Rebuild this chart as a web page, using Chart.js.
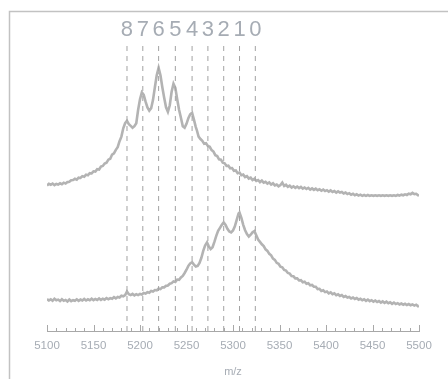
<!DOCTYPE html>
<html>
<head>
<meta charset="utf-8">
<script src="https://cdn.jsdelivr.net/npm/chart.js@4"></script>
<style>
  html, body { margin: 0; padding: 0; background: #fff; }
  canvas { display: block; }
</style>
</head>
<body>
<canvas id="spectra" width="448" height="379"></canvas>
<script>
// Upper spectrum: [m/z, relative intensity]
const upperSpectrum = [
  [5100,48.7],[5102,49.2],[5104,48.9],[5106,49.3],[5108,48.8],[5110,49.2],[5112,49.0],[5114,49.4],[5116,49.1],[5118,49.6],
  [5120,49.3],[5122,49.8],[5124,49.9],[5126,50.4],[5128,50.5],[5130,50.9],[5132,50.6],[5134,51.3],[5136,51.2],[5138,51.8],
  [5140,51.6],[5142,52.3],[5144,52.1],[5146,52.8],[5148,52.7],[5150,53.4],[5152,53.3],[5154,54.1],[5156,54.0],[5158,55.0],
  [5160,55.2],[5162,56.0],[5164,56.3],[5166,57.3],[5168,57.6],[5170,59.0],[5172,59.4],[5174,60.6],[5176,61.5],[5178,63.5],
  [5180,65.0],[5182,67.8],[5184,69.5],[5186,70.3],[5188,69.2],[5190,68.6],[5192,68.0],[5194,68.5],[5196,69.5],[5198,74.0],
  [5200,77.5],[5202,79.8],[5204,79.0],[5206,76.7],[5208,74.8],[5210,73.7],[5212,74.5],[5214,77.3],[5216,81.5],[5218,85.5],
  [5220,88.0],[5222,85.5],[5224,81.5],[5226,78.0],[5228,74.8],[5230,73.3],[5232,75.5],[5234,80.0],[5236,82.7],[5238,81.3],
  [5240,77.5],[5242,74.0],[5244,71.3],[5246,68.5],[5248,68.0],[5250,69.3],[5252,71.2],[5254,72.5],[5256,73.0],[5258,70.7],
  [5260,68.2],[5261,67.3],[5263,65.0],[5265,64.2],[5267,63.6],[5269,62.6],[5271,62.8],[5273,61.9],[5275,61.6],[5277,60.5],
  [5279,60.0],[5281,58.8],[5283,58.5],[5285,57.4],[5287,57.3],[5289,56.3],[5291,56.1],[5293,55.2],[5295,55.3],[5297,54.4],
  [5299,54.5],[5301,53.6],[5303,53.7],[5305,52.8],[5307,53.0],[5309,52.1],[5311,52.3],[5313,51.5],[5315,51.8],[5317,51.0],
  [5319,51.3],[5321,50.5],[5323,50.9],[5325,50.2],[5327,50.5],[5329,49.8],[5331,50.3],[5333,49.6],[5335,49.9],[5337,49.3],
  [5339,49.7],[5341,49.0],[5343,49.4],[5345,48.7],[5347,49.0],[5349,48.4],[5351,48.8],[5353,49.6],[5355,48.5],[5357,48.9],
  [5359,48.2],[5361,48.6],[5363,48.0],[5365,48.4],[5367,47.9],[5369,48.3],[5371,47.8],[5373,48.2],[5375,47.6],[5377,48.0],
  [5379,47.5],[5381,47.9],[5383,47.3],[5385,47.7],[5387,47.2],[5389,47.6],[5391,47.1],[5393,47.4],[5395,46.9],[5397,47.3],
  [5399,46.8],[5401,47.1],[5403,46.6],[5405,47.0],[5407,46.5],[5409,46.8],[5411,46.3],[5413,46.7],[5415,46.3],[5417,46.5],
  [5419,46.0],[5421,46.3],[5423,45.8],[5425,46.1],[5427,45.6],[5429,45.9],[5431,45.4],[5433,45.7],[5435,45.3],[5437,45.6],
  [5439,45.2],[5441,45.5],[5443,45.2],[5445,45.5],[5447,45.2],[5449,45.4],[5451,45.2],[5453,45.4],[5455,45.2],[5457,45.4],
  [5459,45.2],[5461,45.4],[5463,45.2],[5465,45.4],[5467,45.2],[5469,45.4],[5471,45.2],[5473,45.4],[5475,45.2],[5477,45.5],
  [5479,45.3],[5481,45.6],[5483,45.4],[5485,45.7],[5487,45.5],[5489,45.9],[5491,45.7],[5493,46.2],[5495,45.8],[5497,45.9],
  [5499,45.4],[5500,45.3]
];

// Lower spectrum: [m/z, relative intensity]
const lowerSpectrum = [
  [5100,10.7],[5102,10.2],[5104,10.6],[5106,10.1],[5108,10.8],[5110,10.3],[5112,10.5],[5114,10.0],[5116,10.6],[5118,10.1],
  [5120,10.4],[5122,9.9],[5124,10.5],[5126,10.0],[5128,10.3],[5130,10.1],[5132,10.6],[5134,10.1],[5136,10.5],[5138,10.2],
  [5140,10.7],[5142,10.2],[5144,10.6],[5146,10.3],[5148,10.8],[5150,10.3],[5152,10.7],[5154,10.4],[5156,10.9],[5158,10.4],
  [5160,10.8],[5162,10.5],[5164,11.0],[5166,10.6],[5168,11.0],[5170,10.8],[5172,11.3],[5174,10.9],[5176,11.4],[5178,11.2],
  [5180,11.8],[5182,11.6],[5184,12.0],[5186,13.2],[5188,12.3],[5190,12.0],[5192,12.4],[5194,11.9],[5196,12.3],[5198,12.0],
  [5200,12.4],[5202,12.2],[5204,12.7],[5206,12.5],[5208,13.0],[5210,12.8],[5212,13.4],[5214,13.2],[5216,13.7],[5218,13.6],
  [5220,14.2],[5222,14.0],[5224,14.6],[5226,14.6],[5228,15.1],[5230,15.2],[5232,15.8],[5234,16.0],[5236,16.6],[5238,16.4],
  [5240,17.2],[5242,17.1],[5244,17.9],[5246,18.4],[5248,19.4],[5250,20.5],[5252,21.8],[5254,22.6],[5256,23.0],[5258,22.2],
  [5260,21.6],[5262,21.8],[5264,22.8],[5266,24.5],[5268,26.8],[5270,28.6],[5272,29.6],[5274,28.3],[5276,27.4],[5278,28.0],
  [5280,29.8],[5282,31.8],[5284,33.5],[5286,34.5],[5288,35.5],[5290,36.3],[5292,35.5],[5294,34.2],[5296,33.3],[5298,33.0],
  [5300,33.6],[5302,35.0],[5304,37.2],[5306,39.3],[5307,39.6],[5309,37.8],[5311,35.5],[5313,33.7],[5315,32.4],[5317,31.6],
  [5319,32.2],[5321,33.0],[5323,33.4],[5325,32.0],[5327,30.6],[5329,29.8],[5331,29.0],[5333,28.4],[5335,27.3],[5337,26.8],
  [5339,25.8],[5341,25.3],[5343,24.2],[5345,23.8],[5347,22.8],[5349,22.5],[5351,21.5],[5353,21.3],[5355,20.4],[5357,20.2],
  [5359,19.4],[5361,19.2],[5363,18.4],[5365,18.3],[5367,17.6],[5369,17.6],[5371,16.9],[5373,17.0],[5375,16.3],[5377,16.5],
  [5379,15.8],[5381,16.0],[5383,15.3],[5385,15.4],[5387,14.8],[5389,14.8],[5391,14.0],[5393,14.1],[5395,13.4],[5397,13.6],
  [5399,13.0],[5401,13.2],[5403,12.6],[5405,12.9],[5407,12.3],[5409,12.6],[5411,12.0],[5413,12.3],[5415,11.7],[5417,12.0],
  [5419,11.4],[5421,11.7],[5423,11.2],[5425,11.4],[5427,10.9],[5429,11.2],[5431,10.7],[5433,11.0],[5435,10.5],[5437,10.8],
  [5439,10.3],[5441,10.6],[5443,10.1],[5445,10.5],[5447,10.0],[5449,10.3],[5451,9.8],[5453,10.2],[5455,9.7],[5457,10.0],
  [5459,9.5],[5461,9.9],[5463,9.4],[5465,9.8],[5467,9.3],[5469,9.6],[5471,9.1],[5473,9.5],[5475,9.0],[5477,9.3],
  [5479,8.9],[5481,9.2],[5483,8.8],[5485,9.1],[5487,8.7],[5489,9.0],[5491,8.6],[5493,8.9],[5495,8.5],[5497,8.8],
  [5499,8.3],[5500,8.4]
];

// Adduct ladder markers
const markerMz = [5186, 5203, 5220, 5238, 5256, 5273, 5290, 5307, 5324];
const markerLabels = ['8', '7', '6', '5', '4', '3', '2', '1', '0'];
const markerTop = 95.7;

// Axis ticks
const xTickLabels = [5100, 5150, 5200, 5250, 5300, 5350, 5400, 5450, 5500];
const xMinorStep = 10;

const traceColor = '#b3b3b3';
const textColor = '#a6acb4';

const toPoints = (pairs) => pairs.map(([x, y]) => ({ x: x, y: y }));

const markerSets = markerMz.map(m => ({
  data: [{ x: m, y: 0 }, { x: m, y: markerTop }],
  borderColor: '#a3a3a3',
  borderWidth: 1,
  borderDash: [5, 5],
  pointRadius: 0,
  tension: 0,
  order: 0
}));

// Frame, minor/major tick marks and ladder labels
const decor = {
  id: 'decor',
  beforeDraw(chart) {
    const ctx = chart.ctx;
    ctx.save();
    ctx.fillStyle = '#fff';
    ctx.fillRect(0, 0, chart.width, chart.height);
    ctx.strokeStyle = '#c2c2c2';
    ctx.lineWidth = 1.5;
    ctx.strokeRect(9.5, 11.5, 500, 400);
    ctx.restore();
  },
  afterDraw(chart) {
    const ctx = chart.ctx;
    const xs = chart.scales.x;
    const base = chart.chartArea.bottom;
    ctx.save();
    ctx.strokeStyle = '#a8a8a8';
    ctx.lineWidth = 1;
    ctx.beginPath();
    for (let v = xs.min; v <= xs.max + 0.001; v += xMinorStep) {
      const px = Math.round(xs.getPixelForValue(v)) + 0.5;
      const major = xTickLabels.includes(v);
      ctx.moveTo(px, base);
      ctx.lineTo(px, base - (major ? 6 : 3));
    }
    ctx.stroke();

    ctx.fillStyle = textColor;
    ctx.font = '22px "Liberation Sans", Arial, sans-serif';
    ctx.textAlign = 'center';
    ctx.textBaseline = 'middle';
    markerMz.forEach((m, i) => {
      ctx.fillText(markerLabels[i], xs.getPixelForValue(m), 30);
    });
    ctx.restore();
  }
};

new Chart(document.getElementById('spectra'), {
  type: 'line',
  data: {
    datasets: [
      {
        data: toPoints(upperSpectrum),
        borderColor: traceColor,
        borderWidth: 2.6,
        pointRadius: 0,
        tension: 0,
        order: 1
      },
      {
        data: toPoints(lowerSpectrum),
        borderColor: traceColor,
        borderWidth: 2.6,
        pointRadius: 0,
        tension: 0,
        order: 1
      },
      ...markerSets
    ]
  },
  options: {
    responsive: false,
    animation: false,
    layout: { padding: { left: 47, right: 29, top: 32, bottom: 0 } },
    plugins: { legend: { display: false }, tooltip: { enabled: false } },
    scales: {
      x: {
        type: 'linear',
        min: 5100,
        max: 5500,
        afterBuildTicks: (scale) => { scale.ticks = xTickLabels.map(v => ({ value: v })); },
        grid: { display: false, drawTicks: false },
        border: { display: true, color: '#a8a8a8', width: 1 },
        ticks: {
          padding: 8,
          color: textColor,
          maxRotation: 0,
          font: { family: '"Liberation Sans Narrow", "Liberation Sans", Arial, sans-serif', size: 11.5 },
          callback: (v) => String(v)
        },
        title: {
          display: true,
          text: 'm/z',
          color: textColor,
          padding: { top: 5, bottom: 0 },
          font: { family: '"Liberation Sans Narrow", "Liberation Sans", Arial, sans-serif', size: 11 }
        }
      },
      y: {
        display: false,
        min: 0,
        max: 100
      }
    }
  },
  plugins: [decor]
});
</script>
</body>
</html>
